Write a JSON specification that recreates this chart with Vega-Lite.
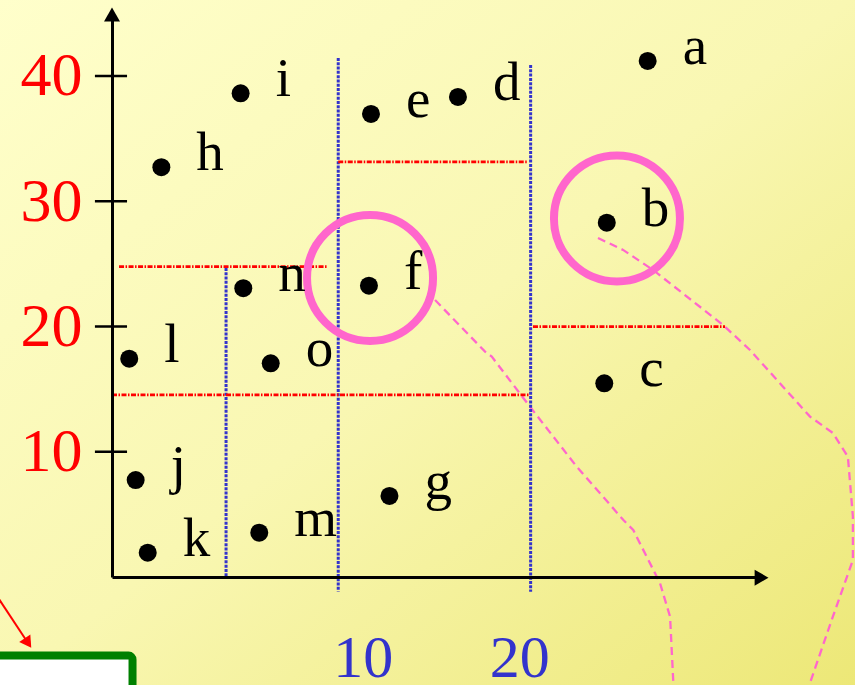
{
  "$schema": "https://vega.github.io/schema/vega-lite/v6.json",
  "autosize": {"type": "none"},
  "padding": {"left": 112, "top": 15, "right": 95, "bottom": 108},
  "width": 648,
  "height": 562,
  "background": "#FAF8B8",
  "config": {"view": {"stroke": null}},
  "datasets": {
    "bg": [
      {"x": -14, "x2": 42, "y": -10, "y2": 47}
    ],
    "pts": [
      {"label": "a", "x": 28.19, "y": 41.19},
      {"label": "b", "x": 25.58, "y": 28.28},
      {"label": "c", "x": 25.42, "y": 15.46},
      {"label": "d", "x": 16.08, "y": 38.32},
      {"label": "e", "x": 10.53, "y": 36.96},
      {"label": "f", "x": 10.40, "y": 23.25},
      {"label": "g", "x": 11.71, "y": 6.47},
      {"label": "h", "x": -2.85, "y": 32.71},
      {"label": "i", "x": 2.21, "y": 38.61},
      {"label": "j", "x": -4.49, "y": 7.74},
      {"label": "k", "x": -3.72, "y": 1.94},
      {"label": "l", "x": -4.90, "y": 17.43},
      {"label": "m", "x": 3.40, "y": 3.54},
      {"label": "n", "x": 2.38, "y": 23.05},
      {"label": "o", "x": 4.13, "y": 17.06}
    ],
    "vlines": [
      {"x": 1.28, "y": 24.67, "y2": 0},
      {"x": 8.44, "y": 41.43, "y2": -1.17},
      {"x": 20.72, "y": 40.87, "y2": -1.17}
    ],
    "hlines": [
      {"y": 24.77, "x": -5.55, "x2": 7.70},
      {"y": 14.53, "x": -6.0, "x2": 20.68},
      {"y": 33.13, "x": 8.44, "x2": 20.49},
      {"y": 19.98, "x": 20.87, "x2": 33.13}
    ],
    "ticks": [
      {"y": 10, "x": -7.09, "x2": -5.04},
      {"y": 20, "x": -7.09, "x2": -5.04},
      {"y": 30, "x": -7.09, "x2": -5.04},
      {"y": 40, "x": -7.09, "x2": -5.04}
    ],
    "rings": [
      {"x": 10.47, "y": 23.87},
      {"x": 26.23, "y": 28.62}
    ],
    "curves": [
      {"curve": 1, "i": 1, "x": 14.62, "y": 22.11},
      {"curve": 1, "i": 2, "x": 17.81, "y": 17.99},
      {"curve": 1, "i": 3, "x": 18.24, "y": 17.59},
      {"curve": 1, "i": 4, "x": 20.68, "y": 13.59},
      {"curve": 1, "i": 5, "x": 23.66, "y": 8.81},
      {"curve": 1, "i": 6, "x": 26.64, "y": 4.55},
      {"curve": 1, "i": 7, "x": 27.27, "y": 3.75},
      {"curve": 1, "i": 8, "x": 28.98, "y": -0.50},
      {"curve": 1, "i": 9, "x": 29.62, "y": -3.17},
      {"curve": 1, "i": 10, "x": 29.83, "y": -8.49},
      {"curve": 1, "i": 11, "x": 29.85, "y": -9.2},
      {"curve": 2, "i": 1, "x": 25.02, "y": 27.06},
      {"curve": 2, "i": 2, "x": 26.62, "y": 26.11},
      {"curve": 2, "i": 3, "x": 28.53, "y": 24.51},
      {"curve": 2, "i": 4, "x": 33.0, "y": 20.12},
      {"curve": 2, "i": 5, "x": 34.72, "y": 18.12},
      {"curve": 2, "i": 6, "x": 38.55, "y": 12.80},
      {"curve": 2, "i": 7, "x": 40.01, "y": 11.50},
      {"curve": 2, "i": 8, "x": 40.97, "y": 9.60},
      {"curve": 2, "i": 9, "x": 41.29, "y": 4.81},
      {"curve": 2, "i": 10, "x": 41.29, "y": 1.36},
      {"curve": 2, "i": 11, "x": 40.01, "y": -3.17},
      {"curve": 2, "i": 12, "x": 38.55, "y": -8.46},
      {"curve": 2, "i": 13, "x": 38.30, "y": -9.42}
    ],
    "arrows": [
      {"x": -6.0, "y": 44.9, "shape": "triangle-up"},
      {"x": 35.46, "y": -0.05, "shape": "triangle-right"}
    ],
    "box": [
      {"x": -20, "x2": -4.69, "y": -6.27, "y2": -12}
    ],
    "pointer": [
      {"x": -13.47, "y": -1.28, "x2": -11.36, "y2": -5.27}
    ],
    "pointerhead": [
      {"x": -11.36, "y": -5.27}
    ]
  },
  "encoding": {
    "x": {"type": "quantitative", "scale": {"domain": [-6, 35.36], "nice": false, "zero": false}},
    "y": {"type": "quantitative", "scale": {"domain": [0, 44.86], "nice": false, "zero": false}}
  },
  "layer": [
    {
      "data": {"name": "bg"},
      "mark": {"type": "rect", "fill": {"gradient": "linear", "x1": 0, "y1": 0, "x2": 1, "y2": 1, "stops": [{"offset": 0, "color": "#FFFFCC"}, {"offset": 0.5, "color": "#F9F7B2"}, {"offset": 1, "color": "#ECE775"}]}},
      "encoding": {
        "x": {"field": "x", "type": "quantitative"},
        "x2": {"field": "x2"},
        "y": {"field": "y", "type": "quantitative"},
        "y2": {"field": "y2"}
      }
    },
    {
      "data": {"name": "curves"},
      "mark": {"type": "line", "stroke": "#FF66CC", "strokeWidth": 2.3, "strokeDash": [8, 5]},
      "encoding": {
        "x": {"field": "x", "type": "quantitative", "axis": {"title": null, "values": [10, 20], "ticks": false, "tickSize": 0, "grid": false, "domainColor": "#000000", "domainWidth": 3, "labelFont": "Liberation Serif", "labelFontSize": 60, "labelColor": "#3333CC", "labelBaseline": "alphabetic", "labelPadding": 99, "zindex": 1}},
        "y": {"field": "y", "type": "quantitative", "axis": {"title": null, "values": [10, 20, 30, 40], "ticks": false, "tickSize": 0, "grid": false, "domainColor": "#000000", "domainWidth": 3, "labelFont": "Liberation Serif", "labelFontSize": 62, "labelColor": "#FF0000", "labelPadding": 30, "zindex": 1}},
        "detail": {"field": "curve", "type": "nominal"},
        "order": {"field": "i", "type": "quantitative"}
      }
    },
    {
      "data": {"name": "vlines"},
      "mark": {"type": "rule", "stroke": "#3333CC", "strokeWidth": 3, "strokeDash": [3, 1.3]},
      "encoding": {
        "x": {"field": "x", "type": "quantitative"},
        "y": {"field": "y", "type": "quantitative"},
        "y2": {"field": "y2"}
      }
    },
    {
      "data": {"name": "hlines"},
      "mark": {"type": "rule", "stroke": "#FF0000", "strokeWidth": 2.8, "strokeDash": [5, 1.5, 1.5, 1.5]},
      "encoding": {
        "x": {"field": "x", "type": "quantitative"},
        "x2": {"field": "x2"},
        "y": {"field": "y", "type": "quantitative"}
      }
    },
    {
      "data": {"name": "ticks"},
      "mark": {"type": "rule", "stroke": "#000000", "strokeWidth": 2.5},
      "encoding": {
        "x": {"field": "x", "type": "quantitative"},
        "x2": {"field": "x2"},
        "y": {"field": "y", "type": "quantitative"}
      }
    },
    {
      "data": {"name": "rings"},
      "mark": {"type": "point", "shape": "circle", "filled": false, "size": 15876, "stroke": "#FF66CC", "strokeWidth": 8, "opacity": 1},
      "encoding": {
        "x": {"field": "x", "type": "quantitative"},
        "y": {"field": "y", "type": "quantitative"}
      }
    },
    {
      "data": {"name": "pts"},
      "mark": {"type": "circle", "size": 324, "fill": "#000000", "opacity": 1},
      "encoding": {
        "x": {"field": "x", "type": "quantitative"},
        "y": {"field": "y", "type": "quantitative"}
      }
    },
    {
      "data": {"name": "pts"},
      "mark": {"type": "text", "align": "left", "baseline": "alphabetic", "dx": 35, "dy": 3, "font": "Liberation Serif", "fontSize": 55, "fill": "#000000"},
      "encoding": {
        "x": {"field": "x", "type": "quantitative"},
        "y": {"field": "y", "type": "quantitative"},
        "text": {"field": "label", "type": "nominal"}
      }
    },
    {
      "data": {"name": "arrows"},
      "mark": {"type": "point", "filled": true, "size": 256, "fill": "#000000", "opacity": 1},
      "encoding": {
        "x": {"field": "x", "type": "quantitative"},
        "y": {"field": "y", "type": "quantitative"},
        "shape": {"field": "shape", "type": "nominal", "scale": null, "legend": null}
      }
    },
    {
      "data": {"name": "box"},
      "mark": {"type": "rect", "fill": "#FFFFFF", "stroke": "#008000", "strokeWidth": 8, "cornerRadius": 4},
      "encoding": {
        "x": {"field": "x", "type": "quantitative"},
        "x2": {"field": "x2"},
        "y": {"field": "y", "type": "quantitative"},
        "y2": {"field": "y2"}
      }
    },
    {
      "data": {"name": "pointer"},
      "mark": {"type": "rule", "stroke": "#FF0000", "strokeWidth": 2},
      "encoding": {
        "x": {"field": "x", "type": "quantitative"},
        "x2": {"field": "x2"},
        "y": {"field": "y", "type": "quantitative"},
        "y2": {"field": "y2"}
      }
    },
    {
      "data": {"name": "pointerhead"},
      "mark": {"type": "point", "shape": "triangle-up", "angle": 146, "filled": true, "size": 180, "fill": "#FF0000", "opacity": 1},
      "encoding": {
        "x": {"field": "x", "type": "quantitative"},
        "y": {"field": "y", "type": "quantitative"}
      }
    }
  ]
}
